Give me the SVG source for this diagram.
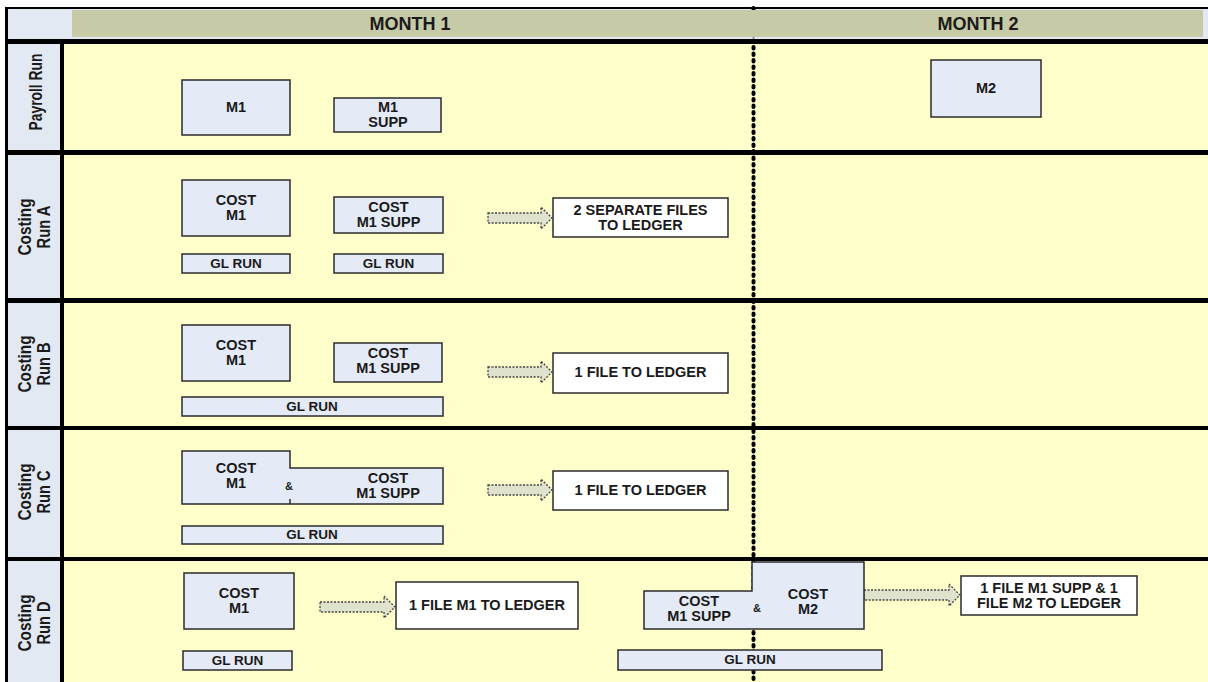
<svg xmlns="http://www.w3.org/2000/svg" width="1208" height="682" viewBox="0 0 1208 682">
<style>
.box{fill:#e5ebf6;stroke:#2b2b2b;stroke-width:1.5}
.out{fill:#ffffff;stroke:#2b2b2b;stroke-width:1.5}
.t{font-family:"Liberation Sans",Arial,sans-serif;font-weight:bold;font-size:14.5px;fill:#1a1a1a;text-anchor:middle}
.gl{font-size:13.5px}
.amp{font-size:11px}
.arrow{fill:#dfe2cc;stroke:#444;stroke-width:1.3;stroke-dasharray:2 1.5}
.lbl{font-family:"Liberation Sans",Arial,sans-serif;font-weight:bold;font-size:18.5px;fill:#1a1a1a;text-anchor:middle}
.hdr{font-family:"Liberation Sans",Arial,sans-serif;font-weight:bold;font-size:18px;fill:#1a1a1a;text-anchor:middle}
.rule{fill:#000}
</style>
<g id="background">
<rect x="0" y="0" width="1208" height="682" fill="#ffffff"/>
<rect x="64" y="44" width="1144" height="638" fill="#ffffcc"/>
<rect x="8" y="9" width="1200" height="30" fill="#e3e9f3"/>
<rect x="8" y="44" width="52" height="638" fill="#e3e9f3"/>
</g>
<g id="month-divider">
<line x1="753.5" y1="8" x2="753.5" y2="682" stroke="#000" stroke-width="4" stroke-dasharray="1.5 5" stroke-linecap="round"/>
</g>
<g id="header">
<rect x="72" y="10" width="1131" height="27" fill="#c6caa7"/>
<text class="hdr" x="410" y="30">MONTH 1</text>
<text class="hdr" x="978" y="30">MONTH 2</text>
</g>
<g id="grid">
<rect class="rule" x="5" y="7" width="1203" height="2"/>
<rect class="rule" x="5" y="7" width="3" height="675"/>
<rect class="rule" x="5" y="39" width="1203" height="5"/>
<rect class="rule" x="60" y="39" width="4" height="643"/>
<rect class="rule" x="5" y="150" width="1203" height="5"/>
<rect class="rule" x="5" y="298" width="1203" height="5"/>
<rect class="rule" x="5" y="426" width="1203" height="4"/>
<rect class="rule" x="5" y="557" width="1203" height="4"/>
</g>
<g id="row-labels">
<text class="lbl" transform="translate(42,92) rotate(-90)" textLength="77" lengthAdjust="spacingAndGlyphs">Payroll Run</text>
<text class="lbl" transform="translate(31,227) rotate(-90)" textLength="57" lengthAdjust="spacingAndGlyphs">Costing</text>
<text class="lbl" transform="translate(50,227) rotate(-90)" textLength="43" lengthAdjust="spacingAndGlyphs">Run A</text>
<text class="lbl" transform="translate(31,364) rotate(-90)" textLength="57" lengthAdjust="spacingAndGlyphs">Costing</text>
<text class="lbl" transform="translate(50,364) rotate(-90)" textLength="43" lengthAdjust="spacingAndGlyphs">Run B</text>
<text class="lbl" transform="translate(31,492) rotate(-90)" textLength="57" lengthAdjust="spacingAndGlyphs">Costing</text>
<text class="lbl" transform="translate(50,492) rotate(-90)" textLength="43" lengthAdjust="spacingAndGlyphs">Run C</text>
<text class="lbl" transform="translate(31,623) rotate(-90)" textLength="57" lengthAdjust="spacingAndGlyphs">Costing</text>
<text class="lbl" transform="translate(50,623) rotate(-90)" textLength="43" lengthAdjust="spacingAndGlyphs">Run D</text>
</g>
<g id="connectors">
<polygon class="arrow" points="488,213 541,213 541,207 552,218 541,229 541,223 488,223"/>
<polygon class="arrow" points="488,367 541,367 541,361 552,372 541,383 541,377 488,377"/>
<polygon class="arrow" points="488,485 541,485 541,479 552,490 541,501 541,495 488,495"/>
<polygon class="arrow" points="320,602 384,602 384,596 395,607 384,618 384,612 320,612"/>
<polygon class="arrow" points="864,590 949,590 949,584 960,595 949,606 949,600 864,600"/>
</g>
<g id="payroll-m1"><rect class="box" x="182" y="80" width="108" height="55"/><text class="t" x="236" y="112">M1</text></g>
<g id="payroll-m1-supp"><rect class="box" x="334" y="98" width="107" height="34"/><text class="t" x="388" y="111.5">M1</text><text class="t" x="388" y="126.5">SUPP</text></g>
<g id="payroll-m2"><rect class="box" x="931" y="60" width="110" height="57"/><text class="t" x="986" y="93">M2</text></g>

<g id="a-cost-m1"><rect class="box" x="182" y="180" width="108" height="56"/><text class="t" x="236" y="204.5">COST</text><text class="t" x="236" y="219.5">M1</text></g>
<g id="a-cost-m1-supp"><rect class="box" x="334" y="197" width="109" height="36"/><text class="t" x="388.5" y="211.5">COST</text><text class="t" x="388.5" y="226.5">M1 SUPP</text></g>
<g id="a-gl-run-1"><rect class="box" x="182" y="254" width="108" height="19"/><text class="t gl" x="236" y="268">GL RUN</text></g>
<g id="a-gl-run-2"><rect class="box" x="334" y="254" width="109" height="19"/><text class="t gl" x="388.5" y="268">GL RUN</text></g>
<g id="a-ledger"><rect class="out" x="553" y="198" width="175" height="39"/><text class="t" x="640.5" y="214.5">2 SEPARATE FILES</text><text class="t" x="640.5" y="230">TO LEDGER</text></g>

<g id="b-cost-m1"><rect class="box" x="182" y="325" width="108" height="56"/><text class="t" x="236" y="349.5">COST</text><text class="t" x="236" y="364.5">M1</text></g>
<g id="b-cost-m1-supp"><rect class="box" x="334" y="343" width="108" height="39"/><text class="t" x="388" y="358">COST</text><text class="t" x="388" y="373">M1 SUPP</text></g>
<g id="b-gl-run"><rect class="box" x="182" y="397" width="261" height="19"/><text class="t gl" x="312" y="411">GL RUN</text></g>
<g id="b-ledger"><rect class="out" x="553" y="353" width="175" height="40"/><text class="t" x="640.5" y="377">1 FILE TO LEDGER</text></g>

<g id="c-cost-combined"><path class="box" d="M182,451 H290 V468 H443 V504 H182 Z"/><line x1="290" y1="499" x2="290" y2="504" stroke="#2b2b2b" stroke-width="1.5"/><text class="t" x="236" y="473">COST</text><text class="t" x="236" y="488">M1</text><text class="t amp" x="289" y="490">&amp;</text><text class="t" x="388" y="482.5">COST</text><text class="t" x="388" y="497.5">M1 SUPP</text></g>
<g id="c-gl-run"><rect class="box" x="182" y="526" width="261" height="18"/><text class="t gl" x="312" y="539">GL RUN</text></g>
<g id="c-ledger"><rect class="out" x="553" y="471" width="175" height="39"/><text class="t" x="640.5" y="495">1 FILE TO LEDGER</text></g>

<g id="d-cost-m1"><rect class="box" x="184" y="573" width="110" height="56"/><text class="t" x="239" y="597.5">COST</text><text class="t" x="239" y="612.5">M1</text></g>
<g id="d-gl-run-1"><rect class="box" x="183" y="651" width="109" height="19"/><text class="t gl" x="237.5" y="665">GL RUN</text></g>
<g id="d-ledger-1"><rect class="out" x="396" y="582" width="182" height="47"/><text class="t" x="487" y="610">1 FILE M1 TO LEDGER</text></g>
<g id="d-cost-combined"><path class="box" d="M644,591 H752 V562 H864 V629 H644 Z"/><text class="t" x="699" y="605.5">COST</text><text class="t" x="699" y="620.5">M1 SUPP</text><text class="t amp" x="757" y="612">&amp;</text><text class="t" x="808" y="598.5">COST</text><text class="t" x="808" y="613.5">M2</text></g>
<g id="d-gl-run-2"><rect class="box" x="618" y="650" width="264" height="20"/><text class="t gl" x="750" y="664">GL RUN</text></g>
<g id="d-ledger-2"><rect class="out" x="961" y="576" width="176" height="39"/><text class="t" x="1049" y="592.5">1 FILE M1 SUPP &amp; 1</text><text class="t" x="1049" y="607.5">FILE M2 TO LEDGER</text></g>
</svg>
